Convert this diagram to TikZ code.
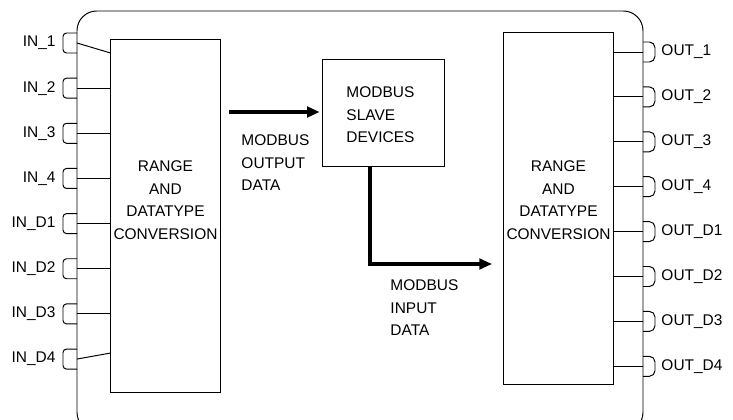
\documentclass[tikz,border=0pt]{standalone}
\usepackage{fontspec}
\setmainfont{Liberation Sans}
\usetikzlibrary{
  arrows.meta,
  positioning,
  calc
}

\begin{document}
\begin{tikzpicture}[x=0.025cm, y=-0.025cm,
            font=\fontsize{11}{16}\selectfont, line width=0.7pt,
            block/.style={rectangle, draw, minimum width=2.725cm, inner sep=0pt},
            txt/.style={align=center, inner sep=0pt},
            lbl/.style={align=left, inner sep=0pt},
            pinname/.style={inner sep=0pt},
            arr/.style={draw, line width=2.2pt, -{Triangle[length=9pt, width=7.5pt]}},
            inpin/.pic={\draw[rounded corners=2.5pt] (0,-10) -- (-14,-10) -- (-14,10) -- (0,10);},
            outpin/.pic={\draw[rounded corners=4pt] (0,-10) -- (12,-10) -- (12,10) -- (0,10);}]
            \useasboundingbox (0,0) rectangle (733,420);
            \clip (0,0) rectangle (733,420);
            % outer frame
            \draw[rounded corners=14pt] (77,11) rectangle (643,432);

            \node [block, minimum height=8.8cm] (lconv) at (165.5,216) {};
            \node [txt] (ltext) at (165.5,200) {RANGE\\AND\\DATATYPE\\CONVERSION};
            \node [block, minimum height=8.775cm] (rconv) at (558.5,208.5) {};
            \node [txt] (rtext) at (558.5,200) {RANGE\\AND\\DATATYPE\\CONVERSION};
            \node [block, minimum width=3.025cm, minimum height=2.65cm] (slave) at (383.5,113) {};
            \node [lbl, anchor=west] (slavetext) at (346,115) {MODBUS\\SLAVE\\DEVICES};
            \node [lbl, anchor=west] (outdata) at (241,163) {MODBUS\\OUTPUT\\DATA};
            \node [lbl, anchor=west] (indata) at (390,308) {MODBUS\\INPUT\\DATA};

            \coordinate (outsrc) at (229,112);
            \coordinate (intap) at ($(slave.south)+(-13.5,0)$);
            \coordinate (indst) at (492,264);
            \path [arr, shorten >=2pt] (outsrc) -- (outsrc -| slave.west);
            \path [arr] (intap) |- (indst);

            % input pins
            \foreach \i/\pinlabel/\dy in {0/IN\_1/10, 1/IN\_2/0, 2/IN\_3/0, 3/IN\_4/0,
                                        4/IN\_D1/0, 5/IN\_D2/0, 6/IN\_D3/0, 7/IN\_D4/-6} {
              \coordinate (in\i) at (77,{43+45.15*\i});
              \pic at (in\i) {inpin};
              \node [pinname, anchor=east] (inname\i) at ($(in\i)+(-21,0)$) {\pinlabel};
              \draw (in\i) -- ($(in\i -| lconv.west)+(0,\dy)$);
            }
            % output pins
            \foreach \i/\pinlabel in {0/OUT\_1, 1/OUT\_2, 2/OUT\_3, 3/OUT\_4,
                                     4/OUT\_D1, 5/OUT\_D2, 6/OUT\_D3, 7/OUT\_D4} {
              \coordinate (out\i) at (643,{52+44.9*\i});
              \pic at (out\i) {outpin};
              \node [pinname, anchor=west] (outname\i) at ($(out\i)+(18,0)$) {\pinlabel};
              \draw (out\i -| rconv.east) -- (out\i);
            }
        \end{tikzpicture}
\end{document}
